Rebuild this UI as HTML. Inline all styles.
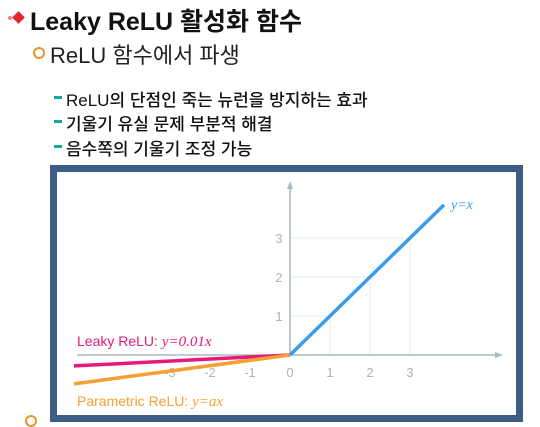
<!DOCTYPE html>
<html><head><meta charset="utf-8"><style>
body{margin:0;width:540px;height:425px;background:#fff;overflow:hidden;position:relative;font-family:"Liberation Sans","Noto Sans CJK KR",sans-serif}
.t{position:absolute;white-space:nowrap;color:#111}
</style></head><body>
<div style="position:absolute;left:14px;top:13px;width:9px;height:9px;background:#e0282e;transform:rotate(45deg)"></div>
<div style="position:absolute;left:8px;top:16px;width:4px;height:4px;background:#f08080;border-radius:2px"></div>
<div class="t" style="left:30px;top:2px;font-size:25px;font-weight:bold">Leaky ReLU 활성화 함수</div>
<div style="position:absolute;left:33px;top:47px;width:8px;height:8px;border:2px solid #e8962e;border-radius:50%"></div>
<div class="t" style="left:50px;top:38px;font-size:22px;color:#222">ReLU 함수에서 파생</div>
<div>
<div style="position:absolute;left:54px;top:96px;width:8px;height:3px;background:#1aa39a"></div>
<div class="t" style="left:66px;top:86px;font-size:17px;font-weight:500">ReLU의 단점인 죽는 뉴런을 방지하는 효과</div>
<div style="position:absolute;left:54px;top:120px;width:8px;height:3px;background:#1aa39a"></div>
<div class="t" style="left:66px;top:110px;font-size:17px;font-weight:500">기울기 유실 문제 부분적 해결</div>
<div style="position:absolute;left:54px;top:145px;width:8px;height:3px;background:#1aa39a"></div>
<div class="t" style="left:66px;top:135px;font-size:17px;font-weight:500">음수쪽의 기울기 조정 가능</div>
</div>
<div style="position:absolute;left:25px;top:415px;width:8px;height:8px;border:2px solid #e8962e;border-radius:50%"></div>
<svg width="540" height="425" style="position:absolute;left:0;top:0">
<rect x="53.5" y="168.5" width="466" height="250" fill="#fff" stroke="#3e5d86" stroke-width="7"/>
<g id="g"></g>
</svg>
<script>
const xTicks=[-3,-2,-1,0,1,2,3];
const yTicks=[1,2,3];
const reluX=[0,3.85];
const leakyX=[-5.4,0];const leakyY=[-0.28,0];
const paramX=[-5.4,0];const paramY=[-0.74,0];
const X=v=>290+v*40, Y=v=>355-v*39;
const g=document.getElementById('g');const NS='http://www.w3.org/2000/svg';
function el(t,a,txt){const e=document.createElementNS(NS,t);for(const k in a)e.setAttribute(k,a[k]);if(txt!=null)e.textContent=txt;g.appendChild(e);return e;}
yTicks.forEach(v=>{const l=el('line',{x1:X(0),x2:X(v),y1:Y(v),y2:Y(v),stroke:'#e6ecef','stroke-width':1});


const v2=el('line',{x1:X(v),x2:X(v),y1:Y(0),y2:Y(v),stroke:'#e6ecef','stroke-width':1});


const t=el('text',{x:X(0)-11,y:Y(v)+5,'text-anchor':'middle','font-size':13,fill:'#a9b4be'},String(v));

});
let ax=el('line',{x1:77,x2:500,y1:Y(0),y2:Y(0),stroke:'#aab7c2','stroke-width':1.5});


el('path',{d:`M503 ${Y(0)} l-8 -3 v6z`,fill:'#aab7c2'});
let ay=el('line',{x1:X(0),x2:X(0),y1:Y(0),y2:184,stroke:'#aab7c2','stroke-width':1.5});


el('path',{d:`M${X(0)} 181 l-3 8 h6z`,fill:'#aab7c2'});
xTicks.forEach(v=>{const t=el('text',{x:X(v),y:Y(0)+22,'text-anchor':'middle','font-size':13,fill:'#a9b4be'},String(v));

});
let p1=el('line',{x1:X(leakyX[0]),y1:Y(leakyY[0]),x2:X(leakyX[1]),y2:Y(leakyY[1]),stroke:'#e5197a','stroke-width':3.5});


let p2=el('line',{x1:X(paramX[0]),y1:Y(paramY[0]),x2:X(paramX[1]),y2:Y(paramY[1]),stroke:'#f5a033','stroke-width':3.5});


let p3=el('line',{x1:X(reluX[0]),y1:Y(reluX[0]),x2:X(reluX[1]),y2:Y(reluX[1]),stroke:'#3d9be9','stroke-width':3.5});


let l1=el('text',{x:77,y:346,'font-size':14,fill:'#e5197a'});l1.innerHTML='Leaky ReLU: <tspan font-family="Liberation Serif" font-style="italic" font-size="15">y=0.01x</tspan>';


let l2=el('text',{x:77,y:406,'font-size':14,fill:'#f5a033'});l2.innerHTML='Parametric ReLU: <tspan font-family="Liberation Serif" font-style="italic" font-size="15">y=ax</tspan>';


let l3=el('text',{x:451,y:209,'font-size':14,fill:'#3d9be9','font-family':'Liberation Serif','font-style':'italic'},'y=x');


</script>
</body></html>
